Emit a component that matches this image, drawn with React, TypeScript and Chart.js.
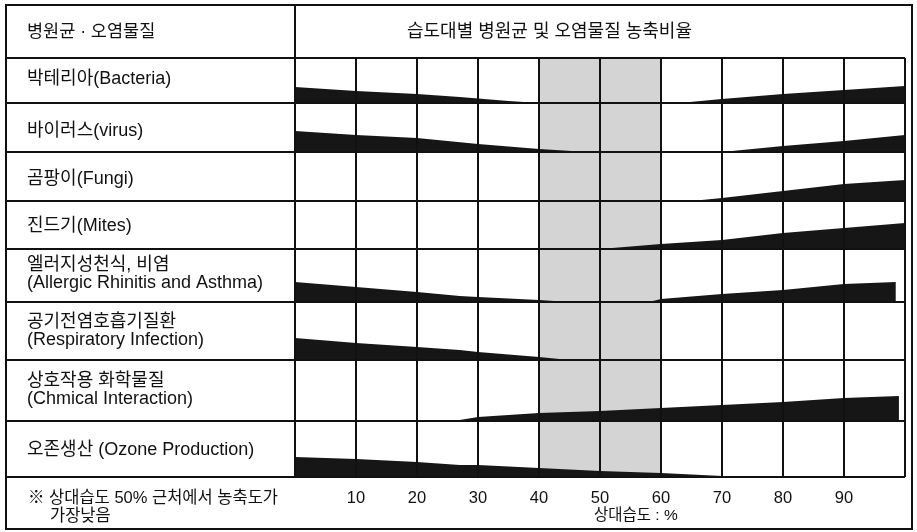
import React, { useEffect, useRef } from 'react';
import { Chart, registerables } from 'chart.js';

Chart.register(...registerables);

// Row labels (left column)
const headerLeft = '병원균 · 오염물질';
const headerRight = '습도대별 병원균 및 오염물질 농축비율';
const rowLabels: string[][] = [
  ['박테리아(Bacteria)'],
  ['바이러스(virus)'],
  ['곰팡이(Fungi)'],
  ['진드기(Mites)'],
  ['엘러지성천식, 비염', '(Allergic Rhinitis and Asthma)'],
  ['공기전염호흡기질환', '(Respiratory Infection)'],
  ['상호작용 화학물질', '(Chmical Interaction)'],
  ['오존생산 (Ozone Production)'],
];
const noteLines = ['※ 상대습도 50% 근처에서 농축도가', '가장낮음'];
const xTitle = '상대습도 : %';

// Row boundaries on the vertical scale (top of first row = 0)
const rowBounds = [0, 45, 94, 143, 191, 244, 302, 363, 419];

// Humidity ticks
const xTicks = [0, 10, 20, 30, 40, 50, 60, 70, 80, 90, 100];

// Optimum zone (relative humidity %)
const optimumZone = [40, 60];

// Wedge thickness by humidity: [humidity %, thickness]
const bacteriaLow: [number, number][] = [[0, 16], [10, 12], [20, 9], [27, 6], [35, 2], [40, 0]];
const bacteriaHigh: [number, number][] = [[63, 0], [70, 4], [80, 9], [90, 13], [100, 17]];
const virusLow: [number, number][] = [[0, 21], [10, 17], [20, 14], [30, 8], [40, 3], [48, 0]];
const virusHigh: [number, number][] = [[70, 0], [80, 6], [90, 11], [100, 17]];
const fungiHigh: [number, number][] = [[65, 0], [70, 3], [80, 10], [90, 17], [100, 21]];
const mitesHigh: [number, number][] = [[50, 0], [60, 5], [70, 9], [80, 16], [90, 21], [100, 26]];
const allergyLow: [number, number][] = [[0, 20], [10, 15], [20, 10], [27, 6], [30, 5], [40, 2], [45, 0]];
const allergyHigh: [number, number][] = [[58, 0], [60, 3], [70, 8], [80, 12], [90, 18], [98.5, 20]];
const respiratoryLow: [number, number][] = [[0, 22], [10, 17], [20, 13], [27, 10], [30, 8], [40, 3], [45, 0]];
const chemicalHigh: [number, number][] = [[20, 0], [27, 1], [30, 4], [40, 8], [50, 10], [60, 13], [70, 16], [80, 19], [90, 23], [99, 25]];
const ozoneLow: [number, number][] = [[0, 20], [10, 18], [20, 15], [27, 12], [30, 12], [40, 9], [50, 6], [60, 4], [70, 1], [75, 0]];

const wedges: { row: number; pts: [number, number][] }[] = [
  { row: 0, pts: bacteriaLow },
  { row: 0, pts: bacteriaHigh },
  { row: 1, pts: virusLow },
  { row: 1, pts: virusHigh },
  { row: 2, pts: fungiHigh },
  { row: 3, pts: mitesHigh },
  { row: 4, pts: allergyLow },
  { row: 4, pts: allergyHigh },
  { row: 5, pts: respiratoryLow },
  { row: 6, pts: chemicalHigh },
  { row: 7, pts: ozoneLow },
];

const FONT = '"Liberation Sans", "Noto Sans CJK KR", sans-serif';

const framePlugin = {
  id: 'frame',
  afterDraw(chart: any) {
    const ctx = chart.ctx as CanvasRenderingContext2D;
    const area = chart.chartArea;
    ctx.save();
    ctx.strokeStyle = '#111';
    ctx.lineWidth = 2;
    ctx.strokeRect(6, 5, 906, 524);
    ctx.beginPath();
    ctx.moveTo(area.left, 5);
    ctx.lineTo(area.left, area.top);
    ctx.stroke();

    ctx.fillStyle = '#111';
    ctx.textBaseline = 'middle';
    ctx.textAlign = 'left';
    ctx.font = `17.5px ${FONT}`;
    ctx.fillText(headerLeft, 27, 32);
    ctx.font = `18px ${FONT}`;
    ctx.fillText(headerRight, 407, 32);

    ctx.font = `18px ${FONT}`;
    const centers = [79, 131, 179, 226, 274.5, 331, 390, 450.5];
    rowLabels.forEach((lines, i) => {
      const c = centers[i];
      if (lines.length === 1) {
        ctx.fillText(lines[0], 27, c);
      } else {
        ctx.fillText(lines[0], 27, c - 9);
        ctx.fillText(lines[1], 27, c + 9);
      }
    });

    ctx.font = `16.5px ${FONT}`;
    ctx.fillText(noteLines[0], 28, 498);
    ctx.fillText(noteLines[1], 50, 516);
    ctx.font = `15.5px ${FONT}`;
    ctx.fillText(xTitle, 594, 516);
    ctx.restore();
  },
};

export default function App() {
  const ref = useRef<HTMLCanvasElement | null>(null);

  useEffect(() => {
    if (!ref.current) return;
    const datasets: any[] = wedges.map((w) => {
      const base = rowBounds[w.row + 1];
      return {
        type: 'line',
        data: w.pts.map(([x, t]) => ({ x, y: base - t })),
        borderWidth: 0,
        borderColor: 'rgba(0,0,0,0)',
        backgroundColor: '#161616',
        pointRadius: 0,
        tension: 0,
        fill: { value: base },
        order: 0,
      };
    });
    datasets.push({
      type: 'line',
      data: [
        { x: optimumZone[0], y: rowBounds[0] },
        { x: optimumZone[1], y: rowBounds[0] },
      ],
      borderWidth: 0,
      borderColor: 'rgba(0,0,0,0)',
      backgroundColor: '#d4d4d4',
      pointRadius: 0,
      fill: { value: rowBounds[rowBounds.length - 1] },
      order: 10,
    });

    const chart = new Chart(ref.current, {
      type: 'line',
      data: { datasets },
      plugins: [framePlugin],
      options: {
        animation: false,
        responsive: false,
        devicePixelRatio: 1,
        layout: { padding: { left: 6, top: 58, right: 5, bottom: 0 } },
        plugins: { legend: { display: false }, tooltip: { enabled: false } },
        scales: {
          x: {
            type: 'linear',
            min: 0,
            max: 100,
            afterBuildTicks: (s: any) => {
              s.ticks = xTicks.map((v) => ({ value: v }));
            },
            afterFit: (s: any) => {
              s.height = 55;
            },
            grid: { color: '#111', lineWidth: 2, drawTicks: false, z: 1 },
            border: { display: false },
            ticks: {
              autoSkip: false,
              maxRotation: 0,
              padding: 12,
              color: '#111',
              font: { family: FONT, size: 16.5 },
              callback: (v: any) => (v === 0 || v === 100 ? '' : String(v)),
            },
          },
          y: {
            type: 'linear',
            reverse: true,
            min: rowBounds[0],
            max: rowBounds[rowBounds.length - 1],
            afterBuildTicks: (s: any) => {
              s.ticks = rowBounds.map((v) => ({ value: v }));
            },
            afterFit: (s: any) => {
              s.width = 289;
            },
            grid: { color: '#111', lineWidth: 2, drawTicks: true, tickLength: 289, z: 1 },
            border: { display: false },
            ticks: { display: false, autoSkip: false },
          },
        },
      },
    });
    return () => chart.destroy();
  }, []);

  return (
    <div style={{ position: 'fixed', left: 0, top: 0, width: 917, height: 532, background: '#fff' }}>
      <canvas ref={ref} width={917} height={532} style={{ width: 917, height: 532, display: 'block' }} />
    </div>
  );
}
